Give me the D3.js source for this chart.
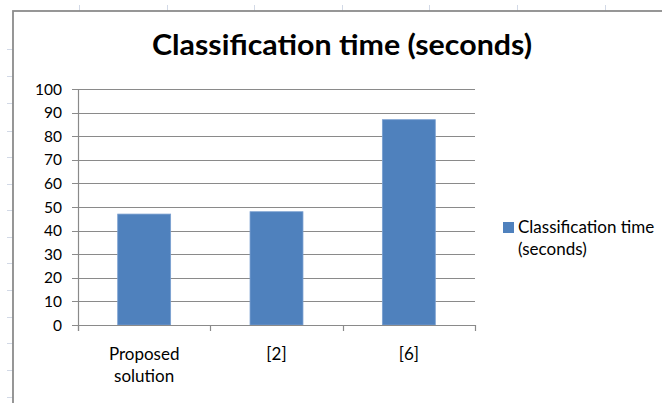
<!DOCTYPE html>
<html>
<head>
<meta charset="utf-8">
<script src="https://cdn.jsdelivr.net/npm/d3@7"></script>
<style>
  html, body { margin: 0; padding: 0; background: #fff; }
  svg { display: block; }
  text { font-family: Lato, "Open Sans", sans-serif; fill: #000; }
</style>
</head>
<body>
<svg id="chart" width="662" height="403"></svg>
<script>
// Chart content
const titleText = "Classification time (seconds)";
const categories = [["Proposed", "solution"], ["[2]"], ["[6]"]];
const seriesName = ["Classification time", "(seconds)"];
const values = [47, 48, 87];
const yTicks = [0, 10, 20, 30, 40, 50, 60, 70, 80, 90, 100];

const svg = d3.select("#chart");
const W = 662, H = 403;

// Worksheet cell borders visible around the embedded chart
const sheet = svg.append("g").attr("stroke", "#d2d9e6").attr("stroke-width", 1);
[79, 167, 254, 342, 429, 517, 605].forEach(x => {
  sheet.append("line").attr("x1", x + 0.5).attr("x2", x + 0.5).attr("y1", 5).attr("y2", 11);
});
[49, 76, 103, 131, 157, 184, 210, 237, 263, 290, 317, 343, 370, 397].forEach(y => {
  sheet.append("line").attr("x1", 7).attr("x2", 13).attr("y1", y + 0.5).attr("y2", y + 0.5);
});

// Chart frame
svg.append("rect")
  .attr("x", 13).attr("y", 11)
  .attr("width", W).attr("height", H)
  .attr("fill", "#fff").attr("stroke", "#8c8c8c").attr("stroke-width", 1.8);

// Plot area
const plot = { left: 78, right: 475, top: 89, bottom: 325 };

const x = d3.scaleBand()
  .domain(d3.range(categories.length))
  .range([plot.left, plot.right])
  .paddingInner(0.6)
  .paddingOuter(0.3);

const y = d3.scaleLinear()
  .domain([0, 100])
  .range([plot.bottom, plot.top]);

// Horizontal gridlines with short outer tick marks
const grid = svg.append("g");
grid.selectAll("line")
  .data(yTicks)
  .join("line")
  .attr("x1", plot.left - 6)
  .attr("x2", plot.right)
  .attr("y1", d => Math.round(y(d)) + 0.5)
  .attr("y2", d => Math.round(y(d)) + 0.5)
  .attr("stroke", "#8a8a8a")
  .attr("stroke-width", 1);

// Y tick labels
svg.append("g").selectAll("text")
  .data(yTicks)
  .join("text")
  .attr("x", plot.left - 16)
  .attr("y", d => y(d))
  .attr("dy", "0.36em")
  .attr("text-anchor", "end")
  .attr("font-size", 15.5)
  .text(d => d);

// Bars
svg.append("g").selectAll("rect")
  .data(values)
  .join("rect")
  .attr("x", (d, i) => x(i))
  .attr("y", d => y(d))
  .attr("width", x.bandwidth())
  .attr("height", d => y(0) - y(d))
  .attr("fill", "#4f81bd")
  .attr("stroke", "#7a9fd0")
  .attr("stroke-width", 0.8);

// Value axis line
svg.append("line")
  .attr("x1", plot.left + 0.5).attr("x2", plot.left + 0.5)
  .attr("y1", plot.top).attr("y2", plot.bottom + 6)
  .attr("stroke", "#8a8a8a").attr("stroke-width", 1.2);

// Category axis line with ticks at band boundaries
svg.append("line")
  .attr("x1", plot.left).attr("x2", plot.right)
  .attr("y1", plot.bottom + 0.5).attr("y2", plot.bottom + 0.5)
  .attr("stroke", "#8a8a8a").attr("stroke-width", 1.2);
const boundaries = d3.range(categories.length + 1)
  .map(i => plot.left + i * (plot.right - plot.left) / categories.length);
svg.append("g").selectAll("line")
  .data(boundaries)
  .join("line")
  .attr("x1", d => Math.round(d) + 0.5)
  .attr("x2", d => Math.round(d) + 0.5)
  .attr("y1", plot.bottom)
  .attr("y2", plot.bottom + 6)
  .attr("stroke", "#8a8a8a").attr("stroke-width", 1.2);

// Category labels
const catG = svg.append("g");
categories.forEach((lines, i) => {
  const cx = x(i) + x.bandwidth() / 2;
  const t = catG.append("text")
    .attr("x", cx)
    .attr("y", 360)
    .attr("text-anchor", "middle")
    .attr("font-size", 17);
  lines.forEach((ln, k) => {
    t.append("tspan")
      .attr("x", cx)
      .attr("dy", k === 0 ? 0 : 22)
      .text(ln);
  });
});

// Title
svg.append("text")
  .attr("x", 342)
  .attr("y", 55)
  .attr("text-anchor", "middle")
  .attr("font-size", 28)
  .attr("font-weight", "bold")
  .attr("textLength", 380)
  .attr("lengthAdjust", "spacingAndGlyphs")
  .text(titleText);

// Legend
const legend = svg.append("g");
legend.append("rect")
  .attr("x", 503).attr("y", 222)
  .attr("width", 11).attr("height", 11)
  .attr("fill", "#4f81bd");
const lt = legend.append("text")
  .attr("x", 518).attr("y", 233)
  .attr("font-size", 17);
seriesName.forEach((ln, k) => {
  lt.append("tspan").attr("x", 518).attr("dy", k === 0 ? 0 : 22).text(ln);
});
</script>
</body>
</html>
